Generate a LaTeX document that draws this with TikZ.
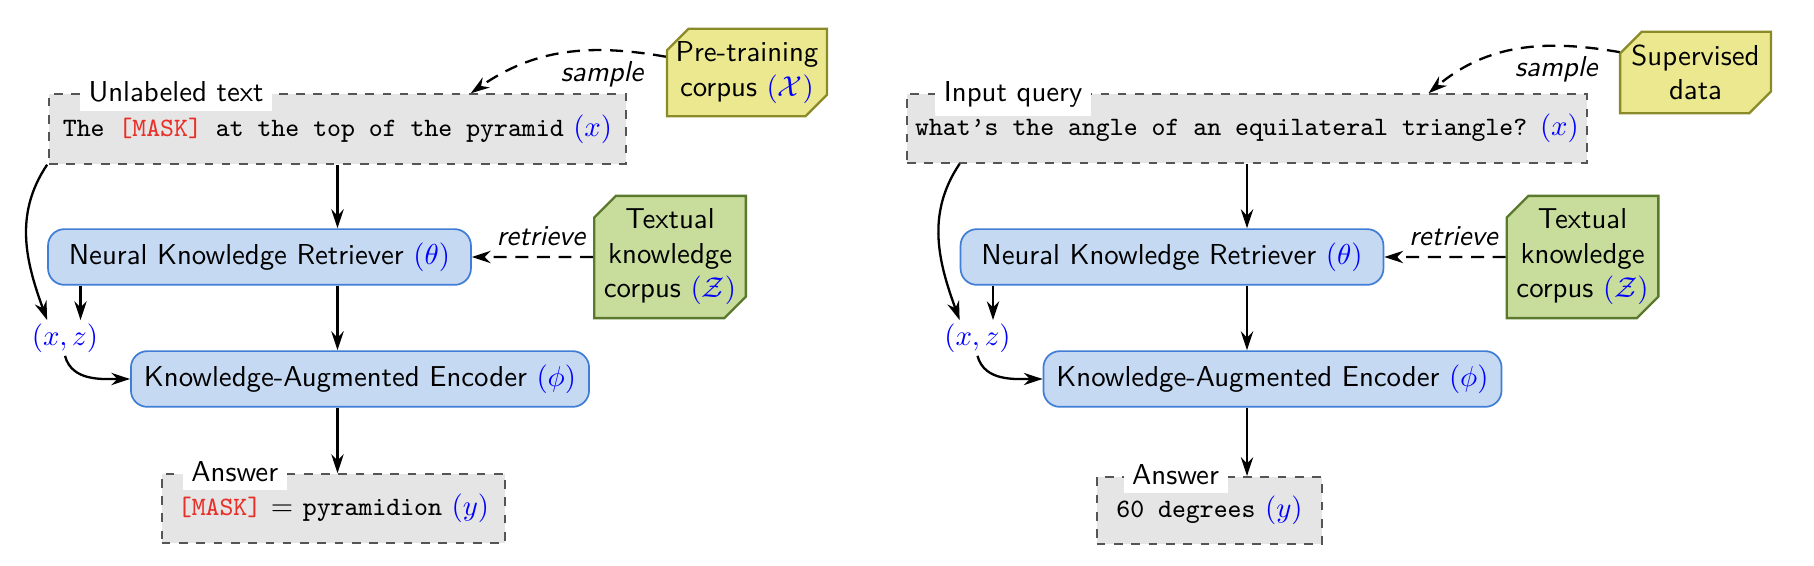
\documentclass[tikz,border=0pt]{standalone}
\usepackage{tikz}
\usetikzlibrary{arrows.meta,positioning,shapes.misc}
\definecolor{kfill}{RGB}{198,217,243}
\definecolor{kline}{RGB}{64,125,212}
\definecolor{qfill}{RGB}{229,229,229}
\definecolor{qline}{RGB}{85,85,85}
\definecolor{cyfill}{RGB}{235,232,143}
\definecolor{cyline}{RGB}{138,138,40}
\definecolor{cgfill}{RGB}{200,221,156}
\definecolor{cgline}{RGB}{91,121,45}
\definecolor{maskred}{RGB}{232,48,40}
\newcommand{\mvar}[1]{\textcolor{blue}{$#1$}}
\newcommand{\mask}{\textcolor{maskred}{[MASK]}}

\begin{document}
\begin{tikzpicture}[x=0.12203mm,y=0.12203mm,>={Stealth[length=2.3mm,width=1.5mm]},font=\sffamily]
\tikzstyle{qbox}=[draw=qline,semithick,dashed,fill=qfill,minimum height=8.5mm,inner sep=2pt]
\tikzstyle{kbox}=[draw=kline,semithick,fill=kfill,rounded corners=2mm,minimum height=6.8mm]
\tikzstyle{cbox}=[chamfered rectangle,chamfered rectangle corners={north west,south east},chamfered rectangle xsep=3pt,chamfered rectangle ysep=4.5pt,thick,align=center,inner sep=0pt]
\tikzstyle{boxlabel}=[fill=white,inner sep=3pt,anchor=base west]
\tikzstyle{flow}=[->,thick]
\tikzstyle{curl}=[->,thick]
\tikzstyle{fetch}=[->,thick,dash pattern=on 4.5pt off 3pt]
\useasboundingbox (0,0) rectangle (1814,-566);

\node[qbox,minimum width=70.4mm] (q1) at (337.5,-129) {{\fontsize{9.2}{11}\ttfamily The \mask{} at the top of the pyramid} \mvar{(x)}};
\node[boxlabel] (l1) at ([xshift=3.8mm,yshift=-1mm]q1.north west) {Unlabeled text};
\node[cbox,draw=cyline,fill=cyfill,minimum width=19.5mm,minimum height=9.9mm] (p1) at (747,-72.5) {Pre-training\\corpus \mvar{(\mathcal{X})}};
\node[kbox,minimum width=51.6mm] (r1) at (259.5,-257) {Neural Knowledge Retriever \mvar{(\theta)}};
\node[cbox,draw=cgline,fill=cgfill,minimum width=18.5mm,minimum height=14.2mm,right=14.8mm of r1] (t1) {Textual\\knowledge\\corpus \mvar{(\mathcal{Z})}};
\node[text=blue,inner sep=1pt] (xz1) at (65,-338) {$(x,z)$};
\node[kbox,minimum width=55.9mm] (e1) at (360,-379) {Knowledge-Augmented Encoder \mvar{(\phi)}};
\node[qbox,minimum width=41.9mm,minimum height=8.4mm] (a1) at (333.5,-508.5) {{\fontsize{9.2}{11}\ttfamily\mask} $=$ {\fontsize{9.2}{11}\ttfamily pyramidion} \mvar{(y)}};
\node[boxlabel] (l2) at ([xshift=2.6mm,yshift=-1mm]a1.north west) {Answer};
\draw[fetch] (p1.169) to[out=170,in=35] node[pos=0.3,below,font=\sffamily\slshape] (s1) {sample} (q1.15);
\draw[flow] (q1) -- (q1 |- r1.north);
\draw[fetch] (t1) -- node[pos=0.43,above,font=\sffamily\slshape] (g1) {retrieve} (r1);
\draw[flow] (r1.south -| q1) -- (q1 |- e1.north);
\draw[flow] (e1.south -| q1) -- (q1 |- a1.north);
\draw[flow] (r1.south -| xz1.49) -- (xz1.49);
\draw[curl] (q1.south -| xz1.135) to[out=236,in=110] (xz1.135);
\draw[curl] (xz1.south) to[out=-75,in=180] (e1.west);

\node[qbox,minimum width=83mm,minimum height=8.4mm] (q2) at (1247,-128.5) {{\fontsize{9.2}{11}\ttfamily what’s the angle of an equilateral triangle?} \mvar{(x)}};
\node[boxlabel] (l3) at ([xshift=3.5mm,yshift=-1mm]q2.north west) {Input query};
\node[cbox,draw=cyline,fill=cyfill,minimum width=18.4mm,minimum height=9.9mm] (p2) at (1695.5,-72.5) {Supervised\\data};
\node[kbox,minimum width=51.6mm] (r2) at (1172,-257) {Neural Knowledge Retriever \mvar{(\theta)}};
\node[cbox,draw=cgline,fill=cgfill,minimum width=18.5mm,minimum height=14.2mm,right=14.8mm of r2] (t2) {Textual\\knowledge\\corpus \mvar{(\mathcal{Z})}};
\node[text=blue,inner sep=1pt] (xz2) at (977.5,-338) {$(x,z)$};
\node[kbox,minimum width=55.9mm] (e2) at (1272.5,-379) {Knowledge-Augmented Encoder \mvar{(\phi)}};
\node[qbox,minimum width=27.5mm,minimum height=8.2mm] (a2) at (1209.5,-510.5) {{\fontsize{9.2}{11}\ttfamily 60 degrees} \mvar{(y)}};
\node[boxlabel] (l4) at ([xshift=3.3mm,yshift=-1mm]a2.north west) {Answer};
\draw[fetch] (p2.165) to[out=170,in=40] node[pos=0.3,below,font=\sffamily\slshape] (s2) {sample} (q2.11);
\draw[flow] (q2) -- (q2 |- r2.north);
\draw[fetch] (t2) -- node[pos=0.43,above,font=\sffamily\slshape] (g2) {retrieve} (r2);
\draw[flow] (r2.south -| q2) -- (q2 |- e2.north);
\draw[flow] (e2.south -| q2) -- (q2 |- a2.north);
\draw[flow] (r2.south -| xz2.49) -- (xz2.49);
\draw[curl] (q2.south -| xz2.135) to[out=236,in=110] (xz2.135);
\draw[curl] (xz2.south) to[out=-75,in=180] (e2.west);
\end{tikzpicture}
\end{document}
